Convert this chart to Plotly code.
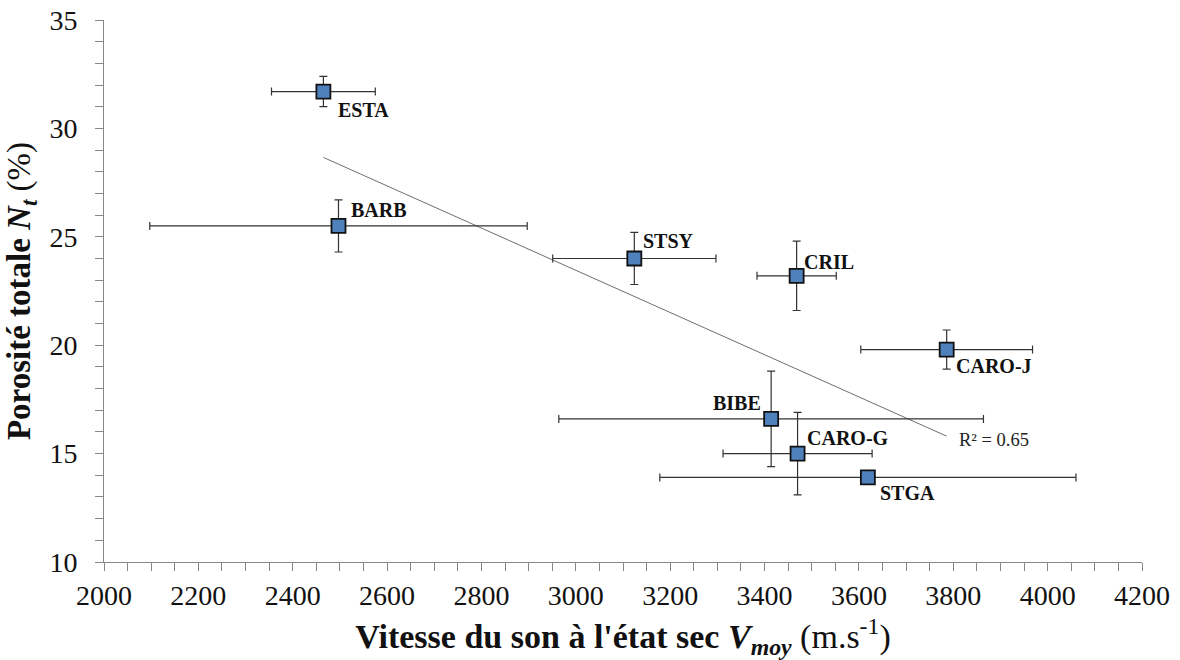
import numpy as np
import plotly.graph_objects as go

# ---- data ----
sites = ["ESTA", "BARB", "STSY", "CRIL", "CARO-J", "BIBE", "CARO-G", "STGA"]
vitesse = [2465, 2497, 3124, 3468, 3786, 3414, 3470, 3619]
vitesse_err = [110, 400, 173, 84, 182, 450, 158, 441]
porosite = [31.7, 25.5, 24.0, 23.2, 19.8, 16.6, 15.0, 13.9]
porosite_err = [0.7, 1.2, 1.2, 1.6, 0.9, 2.2, 1.9, 0.2]
r2_text = "R² = 0.65"

# label placement (style only)
label_style = {
    "ESTA": dict(xanchor="left", xshift=13, yshift=-18),
    "BARB": dict(xanchor="left", xshift=11, yshift=16),
    "STSY": dict(xanchor="left", xshift=7, yshift=17),
    "CRIL": dict(xanchor="left", xshift=5, yshift=14),
    "CARO-J": dict(xanchor="left", xshift=7, yshift=-16),
    "BIBE": dict(xanchor="right", xshift=-8, yshift=16),
    "CARO-G": dict(xanchor="left", xshift=7, yshift=16),
    "STGA": dict(xanchor="left", xshift=10, yshift=-16),
}

FONT = "Liberation Serif, serif"

fig = go.Figure()

# trendline (linear regression over data range)
xv = np.array(vitesse, dtype=float)
yv = np.array(porosite, dtype=float)
slope, intercept = np.polyfit(xv, yv, 1)
xt = np.array([xv.min(), xv.max()])
yt = slope * xt + intercept
fig.add_trace(go.Scatter(x=xt, y=yt, mode="lines",
                         line=dict(color="#6e6e6e", width=1),
                         hoverinfo="skip", showlegend=False))

fig.add_trace(go.Scatter(
    x=vitesse, y=porosite, mode="markers",
    marker=dict(symbol="square", size=14, color="#4F81BD",
                line=dict(color="#111111", width=1.8)),
    error_x=dict(type="data", array=vitesse_err, visible=True,
                 color="#333333", thickness=1.2, width=4),
    error_y=dict(type="data", array=porosite_err, visible=True,
                 color="#333333", thickness=1.2, width=4),
    showlegend=False,
))

for s, x, y in zip(sites, vitesse, porosite):
    st = label_style[s]
    fig.add_annotation(x=x, y=y, text="<b>" + s + "</b>", showarrow=False,
                       xanchor=st["xanchor"], yanchor="middle",
                       xshift=st["xshift"], yshift=st["yshift"],
                       font=dict(family=FONT, size=20, color="#111111"))

fig.add_annotation(x=xt[1], y=yt[1], text=r2_text, showarrow=False,
                   xanchor="left", yanchor="middle", xshift=10, yshift=-4,
                   font=dict(family=FONT, size=18.5, color="#222222"))

axis_common = dict(
    showline=True, linecolor="#878787", linewidth=1,
    ticks="outside", ticklen=8, tickcolor="#878787", tickwidth=1,
    showgrid=False, zeroline=False, automargin=False,
    tickfont=dict(family=FONT, size=28, color="#111111"),
)

fig.update_xaxes(
    range=[2000, 4200], dtick=200, tick0=2000,
    minor=dict(dtick=50, ticks="outside", ticklen=8, tickcolor="#878787", showgrid=False),
    title=dict(text="<b>Vitesse du son à l'état sec <i>V<sub>moy</sub></i></b> (m.s<sup>-1</sup>)",
               font=dict(family=FONT, size=34, color="#111111")),
    **axis_common,
)
fig.update_yaxes(
    range=[10, 35], dtick=5, tick0=10,
    minor=dict(dtick=1, ticks="outside", ticklen=8, tickcolor="#878787", showgrid=False),
    title=dict(text="<b>Porosité totale <i>N<sub>t</sub></i></b> (%)",
               font=dict(family=FONT, size=33, color="#111111"), standoff=8),
    ticklabelstandoff=12,
    **axis_common,
)

fig.update_layout(
    width=1180, height=660,
    margin=dict(l=104, r=38, t=20, b=98),
    plot_bgcolor="white", paper_bgcolor="white",
    showlegend=False,
)

fig.write_html("out.html", config={"displayModeBar": False},
               post_script="document.body.style.margin='0px';")
